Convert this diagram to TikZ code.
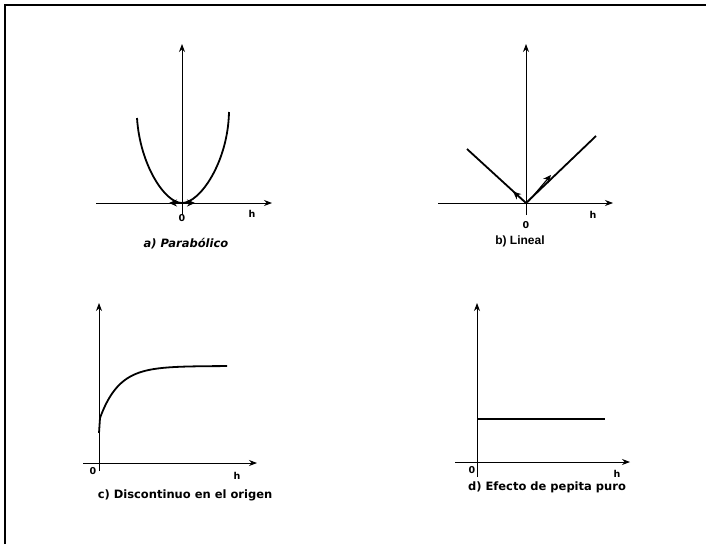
\documentclass[tikz,border=0pt]{standalone}
\usepackage{fontspec}
\setmainfont{DejaVu Sans}
\newfontfamily\arialfont{Liberation Sans}
\usetikzlibrary{arrows.meta}
\begin{document}
\begin{tikzpicture}[x=1pt,y=-1pt,
  axis/.style={line width=0.8pt,-{Stealth[length=8pt,width=6pt]}},
  curve/.style={line width=1.8pt},
  tang/.style={line width=1.2pt,-{Stealth[length=8pt,width=7pt]}},
  lbl/.style={font=\bfseries\fontsize{9.5}{11}\selectfont, inner sep=0pt},
  captxt/.style={font=\bfseries\fontsize{11.5}{13}\selectfont, inner sep=0pt},
]
\useasboundingbox (0,0) rectangle (706,544);
\draw[line width=2pt] (5,544) -- (5,5) -- (706,5);

% a) Parabolico
\coordinate (oa) at (182,203);
\coordinate (al) at (137,118);
\coordinate (ar) at (229,112);
\draw[axis] (96,203) -- (272,203);
\draw[axis] (182,215) -- (182,44);
\draw[curve] (al) .. controls (140,165) and (165,203) .. (oa) .. controls (200,203) and (228,162) .. (ar);
\draw[tang] (oa) -- ++(-13,0);
\draw[tang] (oa) -- ++(13,0);
\node[lbl] (a0) at (182,218) {0};
\node[lbl] (ah) at (252,214) {h};
\node[captxt] (acap) at (186,244) {\itshape a) Parabólico};

% b) Lineal
\coordinate (ob) at (526,203);
\coordinate (bl) at (467,149);
\coordinate (br) at (596,136);
\draw[axis] (438,203) -- (613,203);
\draw[axis] (526,215) -- (526,44);
\draw[curve] (bl) -- (ob) -- (br);
\draw[tang] (ob) -- ++(-13,-11.5);
\draw[tang] (528,202) -- (551,175);
\node[lbl] (b0) at (526,225) {0};
\node[lbl] (bh) at (593,215) {h};
\node[font=\arialfont\bfseries\fontsize{12}{13}\selectfont,inner sep=0pt] (bcap) at (520,241) {b) Lineal};

% c) Discontinuo en el origen
\coordinate (oc) at (99,463);
\draw[axis] (83,463) -- (257,463);
\draw[axis] (99,471) -- (99,303);
\draw[curve] (99,433) -- (100,418);
\draw[curve,domain=0:127,samples=80,smooth] plot ({100+\x},{366+52*exp(-\x/19)});
\node[lbl] (c0) at (93,471) {0};
\node[lbl] (ch) at (237,476) {h};
\node[captxt] (ccap) at (185,495) {c) Discontinuo en el origen};

% d) Efecto de pepita puro
\coordinate (od) at (477,462);
\draw[axis] (455,462) -- (630,462);
\draw[axis] (477,477) -- (477,303);
\draw[curve] (477,419) -- (605,419);
\node[lbl] (d0) at (472,470) {0};
\node[lbl] (dh) at (617,474) {h};
\node[captxt] (dcap) at (547,487) {d) Efecto de pepita puro};
\end{tikzpicture}
\end{document}
